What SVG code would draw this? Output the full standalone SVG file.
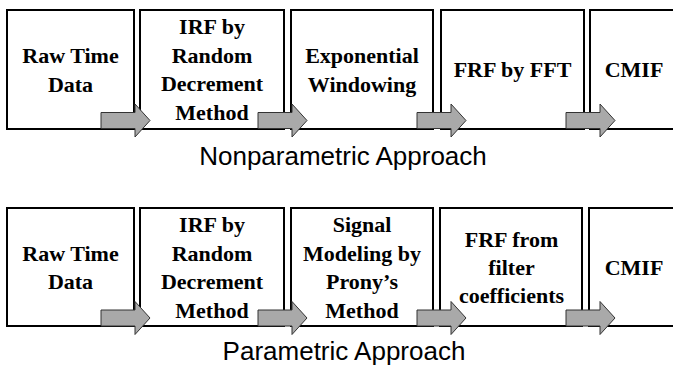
<svg xmlns="http://www.w3.org/2000/svg" xmlns:xlink="http://www.w3.org/1999/xlink" width="673" height="366" viewBox="0 0 673 366">
  <style>
    .box { fill: #ffffff; stroke: #000000; stroke-width: 2; }
    .lbl { font-family: "Liberation Serif", "Times New Roman", serif; font-weight: bold; font-size: 22px; fill: #000000; text-anchor: middle; }
    .cap { font-family: "Liberation Sans", Arial, sans-serif; font-size: 26px; fill: #000000; text-anchor: middle; }
    .arrow { fill: #a9a9a9; stroke: #333333; stroke-width: 1; }
  </style>
  <defs>
    <!-- block arrow, origin at the tail's left end on the centre line -->
    <path id="blockArrow" d="M0,-8 H34 V-16.5 L49,0 L34,16.5 V8 H0 Z"/>
  </defs>
  <rect width="673" height="366" fill="#ffffff"/>

  <!-- Nonparametric chain -->
  <g id="np-raw"><rect class="box" x="7" y="10" width="127" height="119"/>
    <text class="lbl" x="70.5" y="63">Raw Time</text><text class="lbl" x="70.5" y="91.5">Data</text></g>
  <g id="np-irf"><rect class="box" x="140" y="10" width="144" height="119"/>
    <text class="lbl" x="212" y="34">IRF by</text><text class="lbl" x="212" y="62.5">Random</text>
    <text class="lbl" x="212" y="91">Decrement</text><text class="lbl" x="212" y="119.5">Method</text></g>
  <g id="np-window"><rect class="box" x="291" y="10" width="142" height="119"/>
    <text class="lbl" x="362" y="63">Exponential</text><text class="lbl" x="362" y="91.5">Windowing</text></g>
  <g id="np-fft"><rect class="box" x="441" y="10" width="143" height="119"/>
    <text class="lbl" x="512.5" y="77">FRF by FFT</text></g>
  <g id="np-cmif"><rect class="box" x="590" y="10" width="100" height="119"/>
    <text class="lbl" x="634" y="77">CMIF</text></g>
  <text class="cap" x="343" y="165">Nonparametric Approach</text>

  <!-- Parametric chain -->
  <g id="p-raw"><rect class="box" x="7" y="208" width="127" height="118"/>
    <text class="lbl" x="70.5" y="260.5">Raw Time</text><text class="lbl" x="70.5" y="289">Data</text></g>
  <g id="p-irf"><rect class="box" x="140" y="208" width="144" height="118"/>
    <text class="lbl" x="212" y="232">IRF by</text><text class="lbl" x="212" y="260.5">Random</text>
    <text class="lbl" x="212" y="289">Decrement</text><text class="lbl" x="212" y="317.5">Method</text></g>
  <g id="p-prony"><rect class="box" x="291" y="208" width="142" height="118"/>
    <text class="lbl" x="362" y="232">Signal</text><text class="lbl" x="362" y="260.5">Modeling by</text>
    <text class="lbl" x="362" y="289">Prony’s</text><text class="lbl" x="362" y="317.5">Method</text></g>
  <g id="p-filter"><rect class="box" x="440" y="208" width="142" height="118"/>
    <text class="lbl" x="511.5" y="247">FRF from</text><text class="lbl" x="511.5" y="275">filter</text>
    <text class="lbl" x="511.5" y="302.5">coefficients</text></g>
  <g id="p-cmif"><rect class="box" x="589" y="208" width="100" height="118"/>
    <text class="lbl" x="634" y="275">CMIF</text></g>
  <text class="cap" x="344" y="360">Parametric Approach</text>

  <!-- connectors -->
  <g id="connectors">
    <use xlink:href="#blockArrow" class="arrow" x="101" y="120.5"/>
    <use xlink:href="#blockArrow" class="arrow" x="258" y="120.5"/>
    <use xlink:href="#blockArrow" class="arrow" x="417" y="120.5"/>
    <use xlink:href="#blockArrow" class="arrow" x="566" y="120.5"/>
    <use xlink:href="#blockArrow" class="arrow" x="101" y="318"/>
    <use xlink:href="#blockArrow" class="arrow" x="258" y="318"/>
    <use xlink:href="#blockArrow" class="arrow" x="417" y="318"/>
    <use xlink:href="#blockArrow" class="arrow" x="566" y="318"/>
  </g>
</svg>
